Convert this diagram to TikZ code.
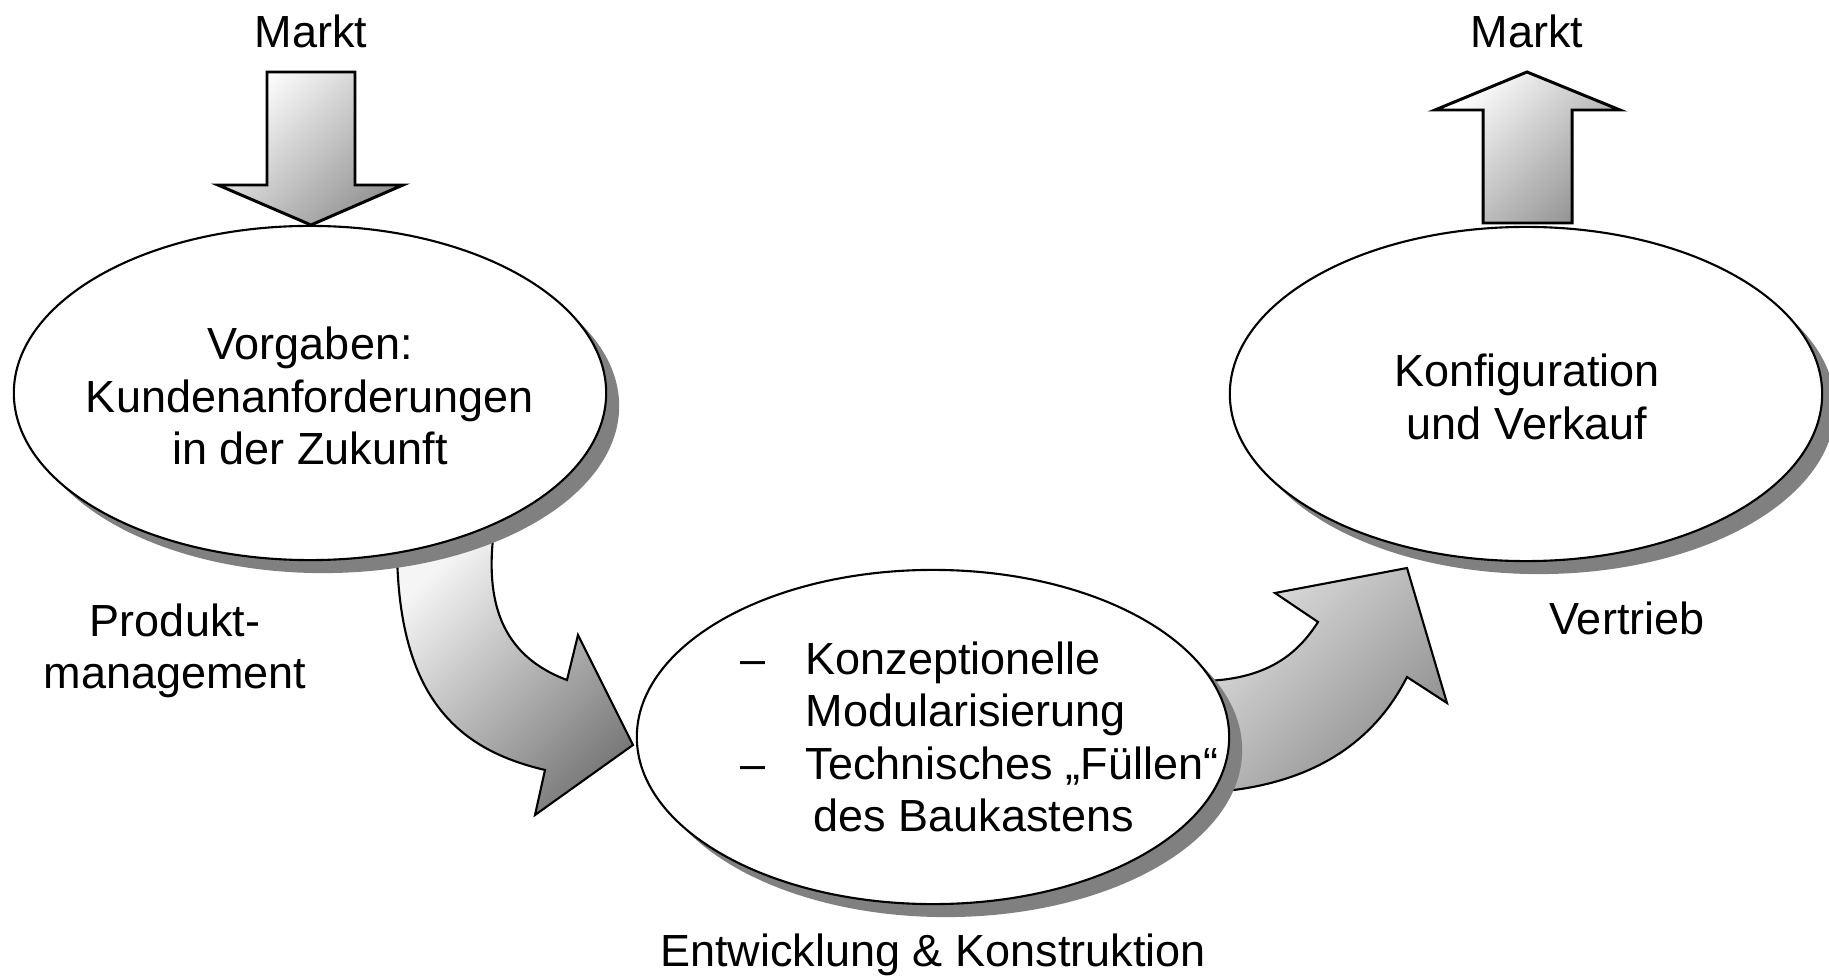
\documentclass[tikz,border=0pt]{standalone}
\usepackage{fontspec}
\setmainfont{Liberation Sans}
\usetikzlibrary{shapes.geometric,shadows,positioning,calc}

\begin{document}
\begin{tikzpicture}[x=0.01cm, y=-0.01cm,
    font=\fontsize{12.8}{14.9}\selectfont,
    bubble/.style={ellipse, draw, line width=0.6pt, fill=white, minimum width=5.92cm, minimum height=3.34cm, inner sep=0pt,
        drop shadow={shadow xshift=0.13cm, shadow yshift=-0.13cm, fill=black!50, opacity=1}},
    blockarrow/.style={draw, line width=0.85pt, line join=miter, shading=axis, top color=white, bottom color=black!42, shading angle=45},
    bendarrow/.style={draw, line width=0.6pt, line join=miter, shading=axis, top color=black!4, bottom color=black!52, shading angle=45},
    caption/.style={align=center, inner sep=0pt}
]
    \useasboundingbox (0,0) rectangle (1829,976);

    % Bent arrows (behind the bubbles)
    \draw[bendarrow] (397,545) .. controls (397,700) and (460,750) .. (545,770) -- (535,815) -- (633,745)
        -- (578,635) -- (567,680) .. controls (500,655) and (485,600) .. (494,530) -- cycle;
    \draw[bendarrow, top color=black!12, bottom color=black!45, shading angle=45]
        (1195,681) .. controls (1270,682) and (1300,650) .. (1318,622) -- (1275,593) -- (1407,568)
        -- (1447,703) -- (1407,677) .. controls (1370,750) and (1300,790) .. (1195,793) -- cycle;

    % Produktmanagement
    \node[bubble] (vorgaben) at (310,393) {};
    \node[caption] (vorgabentext) at (310,396) {Vorgaben:\\Kundenanforderungen\\in der Zukunft};
    \node[caption] (produkt) at (175,651) {Produkt-\\management};

    % Entwicklung
    \node[bubble] (entwicklung) at (933,737) {};
    \node[caption, align=left, anchor=west] (entwtext) at (740,737)
        {\makebox[0.65cm][l]{\textendash}Konzeptionelle\\
         \hspace*{0.65cm}Modularisierung\\
         \makebox[0.65cm][l]{\textendash}Technisches „Füllen“\\
         \hspace*{0.73cm}des Baukastens};
    \node[caption, below=0.28cm of entwicklung] (entwlabel) {Entwicklung \& Konstruktion};

    % Vertrieb
    \node[bubble] (konfig) at (1526,394) {};
    \node[caption] (konfigtext) at (1527,397) {Konfiguration\\und Verkauf};
    \node[caption] (vertrieb) at (1627,618) {Vertrieb};

    % Markt in / out
    \draw[blockarrow] (267,72) -- (355,72) -- (355,185) -- (403,185) -- (311,225) -- (218,185) -- (267,185) -- cycle;
    \node[caption] (marktin) at (311,31) {Markt};
    \draw[blockarrow] (1527,72) -- (1620,110) -- (1572,110) -- (1572,223) -- (1483,223) -- (1483,110) -- (1435,110) -- cycle;
    \node[caption] (marktout) at (1527,31) {Markt};

\end{tikzpicture}
\end{document}
